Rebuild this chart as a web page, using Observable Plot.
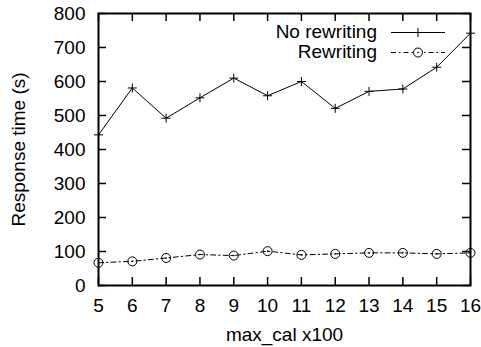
<!DOCTYPE html>
<html>
<head>
<meta charset="utf-8">
<script src="https://cdn.jsdelivr.net/npm/d3@7"></script>
<script src="https://cdn.jsdelivr.net/npm/@observablehq/plot@0.6"></script>
<style>
  html, body { margin: 0; padding: 0; background: #fff; }
</style>
</head>
<body>
<div id="chart"></div>
<script>
// ---- data ----
const maxCal = [5, 6, 7, 8, 9, 10, 11, 12, 13, 14, 15, 16];
const noRewriting = [443, 581, 492, 552, 610, 558, 600, 521, 571, 578, 642, 742];
const rewriting = [67, 71, 81, 91, 88, 101, 90, 93, 96, 96, 93, 96];
const xTicks = [5, 6, 7, 8, 9, 10, 11, 12, 13, 14, 15, 16];
const yTicks = [0, 100, 200, 300, 400, 500, 600, 700, 800];
const seriesNames = ["No rewriting", "Rewriting"];
const xLabel = "max_cal x100";
const yLabel = "Response time (s)";

const rowsA = maxCal.map((x, i) => ({x, y: noRewriting[i]}));
const rowsB = maxCal.map((x, i) => ({x, y: rewriting[i]}));

const FONT = "'Liberation Sans', Arial, Helvetica, sans-serif";
const FS = 19;
const W = 481, H = 347;
const M = {top: 13, right: 11, bottom: 62, left: 98};
const plotW = W - M.left - M.right;
const plotH = H - M.top - M.bottom;
const TICK = 8;
const DASH = "5,3,1.5,3";

const crossSymbol = {
  draw(ctx, size) {
    const r = Math.sqrt(size / Math.PI);
    ctx.moveTo(-r, 0); ctx.lineTo(r, 0);
    ctx.moveTo(0, -r); ctx.lineTo(0, r);
  }
};

function legendMark(index, scales, values, dims) {
  const d = dims || {width: W, marginRight: M.right, marginTop: M.top};
  const right = d.width - d.marginRight;
  const top = d.marginTop;
  const g = d3.create("svg:g")
    .attr("font-family", FONT)
    .attr("font-size", FS)
    .attr("fill", "black");
  seriesNames.forEach((name, i) => {
    const ly = top + 19.5 + i * 20;
    const x1 = right - 79, x2 = right - 25, xm = (x1 + x2) / 2;
    g.append("text")
      .attr("x", right - 93)
      .attr("y", ly + 5.6)
      .attr("text-anchor", "end")
      .text(name);
    g.append("line")
      .attr("x1", x1).attr("x2", x2).attr("y1", ly).attr("y2", ly)
      .attr("stroke", "black").attr("stroke-width", 1)
      .attr("stroke-dasharray", i === 1 ? DASH : null);
    if (i === 0) {
      g.append("path")
        .attr("d", `M${xm - 4.5},${ly}H${xm + 4.5}M${xm},${ly - 4.5}V${ly + 4.5}`)
        .attr("stroke", "black").attr("stroke-width", 1).attr("fill", "none");
    } else {
      g.append("circle").attr("cx", xm).attr("cy", ly).attr("r", 4.5)
        .attr("stroke", "black").attr("fill", "white").attr("stroke-width", 1);
      g.append("circle").attr("cx", xm).attr("cy", ly).attr("r", 0.8).attr("fill", "black");
    }
  });
  return g.node();
}

const chart = Plot.plot({
  width: W,
  height: H,
  marginTop: M.top,
  marginRight: M.right,
  marginBottom: M.bottom,
  marginLeft: M.left,
  style: {fontFamily: FONT, fontSize: FS + "px", background: "white", color: "black", overflow: "visible"},
  x: {domain: [5, 16]},
  y: {domain: [0, 800]},
  marks: [
    // inward ticks on all four sides
    Plot.tickX(xTicks, {x: d => d, insetTop: plotH - TICK, stroke: "black", strokeWidth: 1.5}),
    Plot.tickX(xTicks, {x: d => d, insetBottom: plotH - TICK, stroke: "black", strokeWidth: 1.5}),
    Plot.tickY(yTicks, {y: d => d, insetRight: plotW - TICK, stroke: "black", strokeWidth: 1.5}),
    Plot.tickY(yTicks, {y: d => d, insetLeft: plotW - TICK, stroke: "black", strokeWidth: 1.5}),
    Plot.axisX({ticks: xTicks, tickSize: 0, tickPadding: 13, fontSize: FS, label: null, tickFormat: d => String(d)}),
    Plot.axisY({ticks: yTicks, tickSize: 0, tickPadding: 13, fontSize: FS, label: null, tickFormat: d => String(d)}),
    Plot.text([yLabel], {text: d => d, frameAnchor: "left", textAnchor: "middle", lineAnchor: "middle", rotate: -90, dx: -80, fontSize: FS, fill: "black"}),
    Plot.text([xLabel], {text: d => d, frameAnchor: "bottom", textAnchor: "middle", lineAnchor: "middle", dy: 49, fontSize: FS, fill: "black"}),
    // series
    Plot.line(rowsA, {x: "x", y: "y", stroke: "black", strokeWidth: 1}),
    Plot.dot(rowsA, {x: "x", y: "y", symbol: crossSymbol, r: 4.5, stroke: "black", strokeWidth: 1, fill: "none"}),
    Plot.line(rowsB, {x: "x", y: "y", stroke: "black", strokeWidth: 1, strokeDasharray: DASH}),
    Plot.dot(rowsB, {x: "x", y: "y", r: 4.5, stroke: "black", strokeWidth: 1, fill: "none"}),
    Plot.dot(rowsB, {x: "x", y: "y", r: 0.8, fill: "black", stroke: null}),
    Plot.frame({stroke: "black", strokeWidth: 2}),
    legendMark
  ]
});
document.getElementById("chart").append(chart);
</script>
</body>
</html>
